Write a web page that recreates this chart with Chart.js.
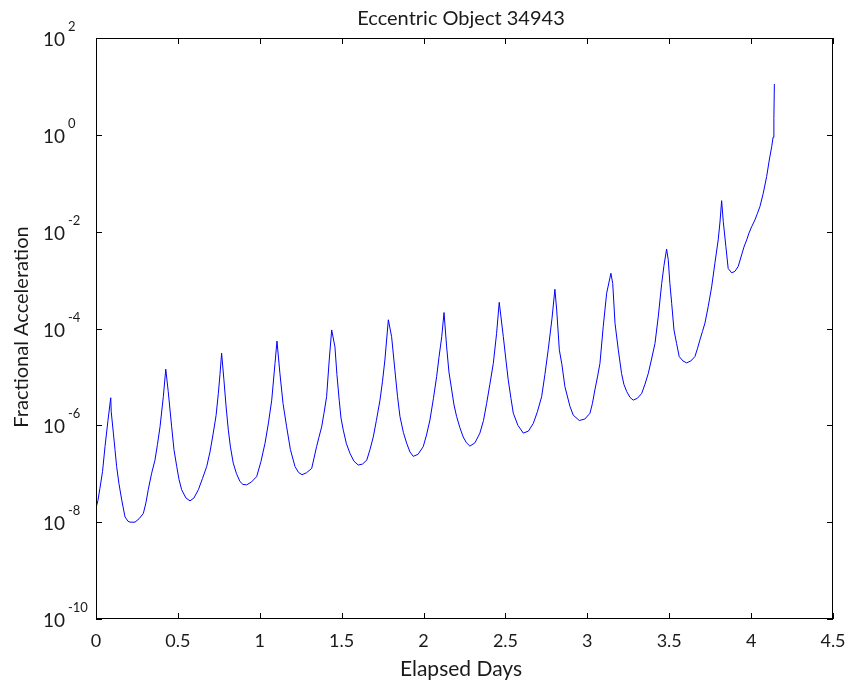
<html>
  <head>
    <script src="https://cdn.jsdelivr.net/npm/chart.js"></script>
    <style>
      body { margin: 0; background: #fff; }
      canvas { display: block; }
    </style>
  </head>
  <body>
    <canvas id="myChart" width="850" height="686"></canvas>
    <script>
// values, one line per orbit
const days = [
  0.000, 0.012, 0.024, 0.040, 0.055, 0.073, 0.090, 0.093, 0.106, 0.116, 0.126, 0.140, 0.157, 0.177, 0.195, 0.208, 0.238, 0.263, 0.289, 0.305, 0.319, 0.339, 0.360, 0.375, 0.391, 0.411, 0.426,
  0.441, 0.462, 0.476, 0.493, 0.507, 0.523, 0.549, 0.574, 0.598, 0.625, 0.650, 0.676, 0.696, 0.716, 0.733, 0.747, 0.757, 0.767,
  0.781, 0.794, 0.808, 0.821, 0.838, 0.858, 0.879, 0.897, 0.920, 0.949, 0.981, 1.007, 1.032, 1.053, 1.073, 1.093, 1.105,
  1.123, 1.142, 1.164, 1.187, 1.215, 1.236, 1.258, 1.285, 1.317, 1.331, 1.347, 1.361, 1.378, 1.392, 1.408, 1.424, 1.439,
  1.459, 1.471, 1.485, 1.496, 1.510, 1.529, 1.551, 1.575, 1.601, 1.627, 1.653, 1.673, 1.693, 1.712, 1.734, 1.749, 1.764, 1.785,
  1.805, 1.825, 1.841, 1.856, 1.877, 1.897, 1.917, 1.937, 1.966, 1.998, 2.018, 2.039, 2.060, 2.080, 2.094, 2.111, 2.125,
  2.141, 2.155, 2.172, 2.186, 2.202, 2.222, 2.242, 2.262, 2.283, 2.314, 2.344, 2.366, 2.385, 2.405, 2.426, 2.446, 2.462,
  2.487, 2.503, 2.517, 2.534, 2.548, 2.576, 2.609, 2.640, 2.670, 2.695, 2.721, 2.741, 2.761, 2.784, 2.802,
  2.813, 2.829, 2.845, 2.863, 2.894, 2.914, 2.951, 2.985, 3.016, 3.031, 3.046, 3.062, 3.077, 3.097, 3.118, 3.144,
  3.155, 3.169, 3.189, 3.209, 3.223, 3.240, 3.260, 3.280, 3.306, 3.332, 3.352, 3.372, 3.391, 3.413, 3.433, 3.454, 3.468, 3.484,
  3.494, 3.504, 3.515, 3.529, 3.545, 3.561, 3.584, 3.606, 3.632, 3.657, 3.672, 3.687, 3.703, 3.718, 3.738, 3.759, 3.779, 3.799, 3.810, 3.820,
  3.830, 3.846, 3.860, 3.881, 3.901, 3.921, 3.942, 3.956, 3.973, 3.987, 4.003, 4.023, 4.039, 4.054, 4.074, 4.095, 4.111, 4.126, 4.134, 4.139, 4.142
];
// log10 of the fractional acceleration
const accelExp = [
  -7.71, -7.55, -7.3, -6.95, -6.44, -5.9, -5.43, -5.72, -6.16, -6.5, -6.85, -7.2, -7.54, -7.89, -7.98, -8.0, -8.0, -7.93, -7.82, -7.6, -7.33, -7.0, -6.72, -6.4, -6.03, -5.41, -4.84,
  -5.30, -6.03, -6.5, -6.85, -7.12, -7.33, -7.5, -7.56, -7.5, -7.33, -7.1, -6.85, -6.55, -6.16, -5.8, -5.34, -4.95, -4.51,
  -5.06, -5.6, -6.10, -6.45, -6.78, -7.0, -7.16, -7.22, -7.23, -7.17, -7.06, -6.75, -6.37, -5.95, -5.48, -4.72, -4.26,
  -4.93, -5.55, -6.03, -6.5, -6.85, -6.97, -7.02, -6.98, -6.89, -6.68, -6.44, -6.25, -6.03, -5.75, -5.41, -4.65, -4.03,
  -4.38, -4.95, -5.48, -5.85, -6.10, -6.38, -6.58, -6.74, -6.82, -6.8, -6.72, -6.5, -6.24, -5.9, -5.48, -5.1, -4.65, -3.82,
  -4.17, -4.86, -5.4, -5.82, -6.15, -6.37, -6.55, -6.64, -6.6, -6.44, -6.2, -5.89, -5.45, -4.99, -4.6, -4.17, -3.67,
  -4.38, -4.9, -5.27, -5.58, -5.82, -6.05, -6.24, -6.36, -6.43, -6.36, -6.16, -5.9, -5.55, -5.15, -4.72, -4.10, -3.46,
  -4.17, -4.65, -5.06, -5.45, -5.75, -6.0, -6.16, -6.12, -5.96, -5.72, -5.41, -4.95, -4.44, -3.8, -3.19,
  -3.62, -4.44, -4.75, -5.20, -5.61, -5.79, -5.90, -5.87, -5.75, -5.55, -5.27, -5.0, -4.72, -3.96, -3.27, -2.86,
  -3.07, -3.89, -4.44, -4.93, -5.15, -5.30, -5.42, -5.48, -5.44, -5.34, -5.15, -4.93, -4.65, -4.31, -3.76, -3.07, -2.7, -2.36,
  -2.58, -3.07, -3.48, -4.03, -4.31, -4.58, -4.67, -4.71, -4.67, -4.58, -4.42, -4.24, -4.06, -3.89, -3.55, -3.14, -2.65, -2.17, -1.8, -1.36,
  -1.79, -2.31, -2.76, -2.85, -2.82, -2.72, -2.48, -2.32, -2.17, -2.03, -1.90, -1.76, -1.62, -1.48, -1.21, -0.86, -0.52, -0.24, -0.05, 0.34, 1.05
];

const xTicks = [0, 0.5, 1, 1.5, 2, 2.5, 3, 3.5, 4, 4.5];
const yExponents = [2, 0, -2, -4, -6, -8, -10];

const titleText = 'Eccentric Object 34943';
const xTitle = 'Elapsed Days';
const yTitle = 'Fractional Acceleration';

const FONT = 'Lato, "Open Sans", sans-serif';

// frame, inward ticks and all the labels
const axesPlugin = {
  id: 'axesPlugin',
  afterDraw(chart) {
    const ctx = chart.ctx;
    const a = chart.chartArea;
    const xs = chart.scales.x;
    const ys = chart.scales.y;
    const tl = 6;

    ctx.save();
    ctx.strokeStyle = '#000';
    ctx.lineWidth = 1;
    ctx.strokeRect(a.left + 0.5, a.top + 0.5, a.right - a.left - 1, a.bottom - a.top - 1);

    ctx.beginPath();
    xTicks.forEach(v => {
      const px = Math.round(xs.getPixelForValue(v)) + 0.5;
      ctx.moveTo(px, a.bottom); ctx.lineTo(px, a.bottom - tl);
      ctx.moveTo(px, a.top); ctx.lineTo(px, a.top + tl);
    });
    yExponents.forEach(e => {
      const py = Math.round(ys.getPixelForValue(Math.pow(10, e))) + 0.5;
      ctx.moveTo(a.left, py); ctx.lineTo(a.left + tl, py);
      ctx.moveTo(a.right, py); ctx.lineTo(a.right - tl, py);
    });
    ctx.stroke();

    ctx.fillStyle = '#1a1a1a';

    // x tick labels
    ctx.font = '18px ' + FONT;
    ctx.textAlign = 'center';
    ctx.textBaseline = 'alphabetic';
    xTicks.forEach(v => {
      ctx.fillText(String(v), xs.getPixelForValue(v), a.bottom + 28);
    });

    // y tick labels 10^e
    yExponents.forEach(e => {
      const py = ys.getPixelForValue(Math.pow(10, e));
      ctx.font = '19px ' + FONT;
      ctx.textAlign = 'right';
      ctx.fillText('10', 65, py + 8);
      ctx.font = '13px ' + FONT;
      ctx.textAlign = 'left';
      ctx.fillText(String(e), 68, py - 7);
    });

    // titles
    ctx.textAlign = 'center';
    ctx.font = '20px ' + FONT;
    ctx.fillText(titleText, 461, 25);
    ctx.font = '21px ' + FONT;
    ctx.fillText(xTitle, 461, 676);

    ctx.font = '20px ' + FONT;
    ctx.translate(28, 327);
    ctx.rotate(-Math.PI / 2);
    ctx.fillText(yTitle, 0, 0);
    ctx.restore();
  }
};

const data = {
  datasets: [{
    data: days.map((d, i) => ({ x: d, y: Math.pow(10, accelExp[i]) })),
    borderColor: '#0000ff',
    borderWidth: 1,
    pointRadius: 0,
    tension: 0,
    fill: false
  }]
};

const config = {
  type: 'line',
  data: data,
  options: {
    responsive: false,
    animation: false,
    layout: { padding: { left: 96, top: 38, right: 17, bottom: 67 } },
    plugins: { legend: { display: false }, tooltip: { enabled: false } },
    scales: {
      x: { type: 'linear', min: 0, max: 4.5, display: false },
      y: { type: 'logarithmic', min: 1e-10, max: 100, display: false }
    }
  },
  plugins: [axesPlugin]
};

new Chart(document.getElementById('myChart'), config);
    </script>
  </body>
</html>
